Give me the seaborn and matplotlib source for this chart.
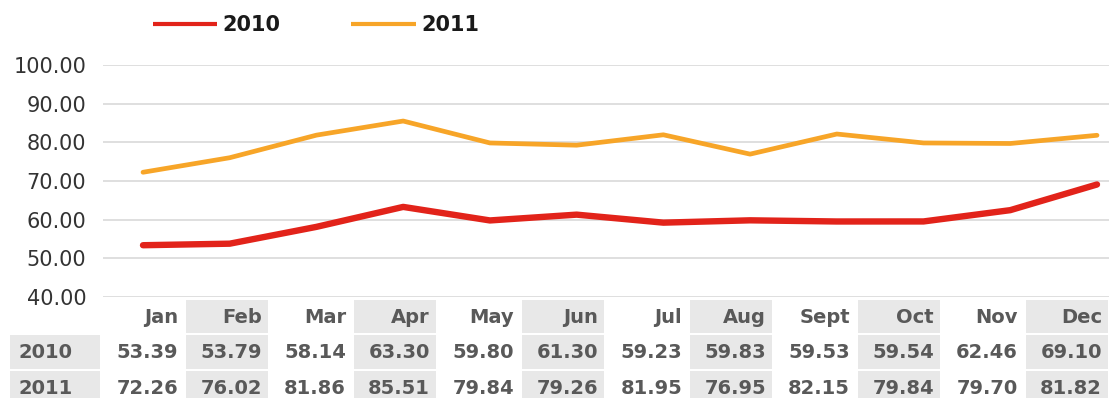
import numpy as np
import pandas as pd
import matplotlib
matplotlib.use("Agg")
import matplotlib.pyplot as plt
from matplotlib.patches import Rectangle
import seaborn as sns

months = ["Jan", "Feb", "Mar", "Apr", "May", "Jun", "Jul", "Aug", "Sept", "Oct", "Nov", "Dec"]
years = ["2010", "2011"]
values_2010 = [53.39, 53.79, 58.14, 63.30, 59.80, 61.30, 59.23, 59.83, 59.53, 59.54, 62.46, 69.10]
values_2011 = [72.26, 76.02, 81.86, 85.51, 79.84, 79.26, 81.95, 76.95, 82.15, 79.84, 79.70, 81.82]
y_ticks = [40, 50, 60, 70, 80, 90, 100]

colors = {"2010": "#E2231A", "2011": "#F7A528"}
widths = {"2010": 4.6, "2011": 3.4}

sns.set_theme(style="white")
plt.rcParams["font.family"] = ["DejaVu Sans"]

W, H = 1109, 398
fig = plt.figure(figsize=(W / 100, H / 100), dpi=100)

# main chart axes: 100 at y=65px, 40 at y=297px; left edge at x=103px
ax_left, ax_right = 103, 1109
ax_top, ax_bot = 65, 297
ax = fig.add_axes([ax_left / W, (H - ax_bot) / H, (ax_right - ax_left) / W, (ax_bot - ax_top) / H])

df = pd.DataFrame({
    "month": list(range(len(months))) * 2,
    "value": values_2010 + values_2011,
    "year": ["2010"] * len(months) + ["2011"] * len(months),
})

for yr in years:
    sub = df[df["year"] == yr]
    sns.lineplot(data=sub, x="month", y="value", ax=ax, color=colors[yr],
                 linewidth=widths[yr], label=yr, solid_capstyle="round",
                 solid_joinstyle="round", sort=False, zorder=3)

# x range so Jan ~ x=143px and Dec ~ x=1097px
span_px = ax_right - ax_left
step_px = (1097 - 143) / 11
x0 = -(143 - ax_left) / step_px
x1 = x0 + span_px / step_px
ax.set_xlim(x0, x1)
ax.set_ylim(40, 100)
ax.set_yticks(y_ticks)
ax.set_yticklabels([f"{v:.2f}" for v in y_ticks], fontsize=15, color="#333333")
ax.tick_params(axis="y", length=0, pad=12)
ax.set_xticks([])
ax.set_xlabel("")
ax.set_ylabel("")
for s in ax.spines.values():
    s.set_visible(False)
ax.grid(axis="y", color="#d9d9d9", linewidth=1.2, zorder=0)

handles, labels = ax.get_legend_handles_labels()
ax.get_legend().remove()
leg = fig.legend(handles, labels, loc="center left", bbox_to_anchor=(134 / W, 1 - 25 / H),
                 ncol=2, frameon=False, handlelength=3.1, handletextpad=0.25,
                 columnspacing=3.4, prop={"weight": "bold", "size": 15})
for t in leg.get_texts():
    t.set_color("#1a1a1a")
for lh in leg.get_lines():
    lh.set_linewidth(3)
    lh.set_solid_capstyle("butt")

# data table
tab = fig.add_axes([0, 0, 1, (H - 299) / H])
tab.set_xlim(0, W)
tab.set_ylim(H, 299)
tab.axis("off")
label_x0, label_x1 = 10, 101
col_w = (W - label_x1) / len(months)
row_y = [(300, 333), (335, 369), (371, 404)]
shade = "#e8e8e8"
txt_col = "#595959"
gap = 2
fs = 14

# header row
for i, m in enumerate(months):
    cx0 = label_x1 + i * col_w + gap / 2
    cw = col_w - gap
    if i % 2 == 1:
        tab.add_patch(Rectangle((cx0, row_y[0][0]), cw, row_y[0][1] - row_y[0][0], color=shade, lw=0))
    tab.text(cx0 + cw - 6, (row_y[0][0] + row_y[0][1]) / 2 + 1, m, ha="right", va="center",
             fontsize=fs, fontweight="bold", color=txt_col)

for r, (yr, vals) in enumerate([("2010", values_2010), ("2011", values_2011)]):
    ry0, ry1 = row_y[r + 1]
    tab.add_patch(Rectangle((label_x0, ry0), label_x1 - label_x0 - gap / 2, ry1 - ry0, color=shade, lw=0))
    tab.text(label_x0 + 8, (ry0 + ry1) / 2 + 1, yr, ha="left", va="center",
             fontsize=fs, fontweight="bold", color=txt_col)
    for i, v in enumerate(vals):
        cx0 = label_x1 + i * col_w + gap / 2
        cw = col_w - gap
        if i % 2 == 1:
            tab.add_patch(Rectangle((cx0, ry0), cw, ry1 - ry0, color=shade, lw=0))
        tab.text(cx0 + cw - 6, (ry0 + ry1) / 2 + 1, f"{v:.2f}", ha="right", va="center",
                 fontsize=fs, fontweight="bold", color=txt_col)

fig.savefig("out.png", dpi=100, facecolor="white")
